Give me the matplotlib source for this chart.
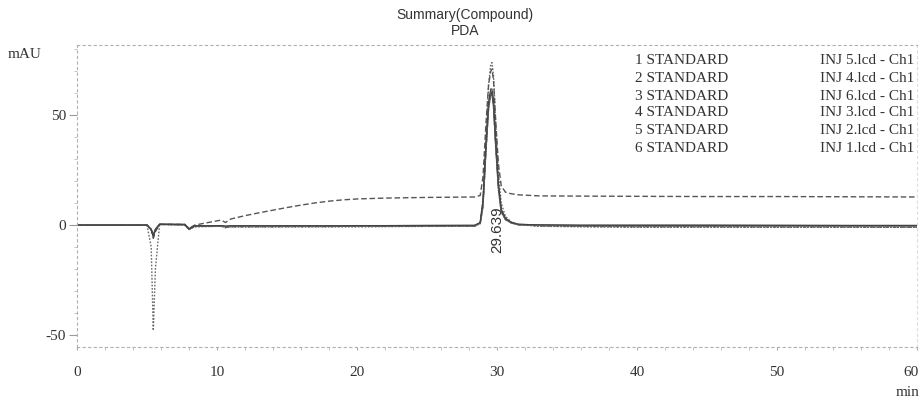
import matplotlib
matplotlib.use("Agg")
import matplotlib.pyplot as plt
from matplotlib.ticker import MultipleLocator
from matplotlib.transforms import ScaledTranslation

# Retention-time breakpoints (min) shared by every trace
time_min = [0, 5.0, 5.3, 5.45, 5.6, 5.9, 7.7, 8.0, 8.4, 10.3, 10.6, 11.0,
            12, 13, 14, 15, 16, 17, 18, 19, 20, 22, 25,
            28.4, 28.8, 29.0, 29.2, 29.4, 29.55, 29.64, 29.75, 29.9, 30.1,
            30.3, 30.6, 31.0, 31.5, 33, 36, 40, 45, 50, 55, 60]

# Absorbance (mAU) of each injection at the breakpoints
inj5 = [0, 0, -10, -48, -20, 0.3, 0, -2.0, -0.8, -0.5, -1.2, -0.8,
        -0.8, -0.8, -0.8, -0.8, -0.8, -0.8, -0.8, -0.8, -0.8, -0.7, -0.6,
        -0.5, 1.0, 12, 38, 64, 73, 74, 68, 48, 24,
        10, 4, 1.5, 0.3, -0.5, -0.8, -1.0, -1.0, -1.0, -1.0, -1.0]
inj4 = [0, 0, -2, -6, -3, 0.3, 0.3, -1.5, 0, 2.3, 1.2, 2.8,
        4.3, 5.6, 6.8, 8.0, 9.1, 10.1, 10.9, 11.5, 11.9, 12.3, 12.6,
        12.8, 13.5, 22, 45, 64, 70, 71, 66, 48, 28,
        18, 15, 14.3, 13.8, 13.3, 13.2, 13.1, 13.0, 13.0, 12.9, 12.8]
inj6 = [0, 0, -2, -5, -2, 0.4, 0.3, -1.8, -0.5, -0.3, -0.6, -0.4,
        -0.4, -0.4, -0.4, -0.4, -0.4, -0.4, -0.4, -0.4, -0.3, -0.3, -0.2,
        -0.2, 1.0, 10, 34, 54, 60, 60.5, 55, 38, 18,
        7, 3, 1.2, 0.3, 0, -0.2, -0.2, -0.2, -0.2, -0.3, -0.3]
inj3 = [0, 0, -2, -4, -2, 0.4, 0.2, -1.6, -0.4, -0.4, -0.8, -0.6,
        -0.6, -0.6, -0.6, -0.6, -0.6, -0.6, -0.5, -0.5, -0.5, -0.4, -0.4,
        -0.3, 0.8, 9, 33, 55, 61, 61, 56, 37, 17,
        6, 2.5, 1.0, 0.2, -0.2, -0.4, -0.5, -0.5, -0.5, -0.6, -0.6]
inj2 = [0, 0, -2, -5, -2, 0.3, 0.2, -2.0, -0.6, -0.6, -1.0, -0.8,
        -0.8, -0.8, -0.8, -0.7, -0.7, -0.7, -0.7, -0.6, -0.6, -0.6, -0.5,
        -0.5, 0.6, 8, 32, 53, 59, 59, 54, 36, 16,
        6, 2.5, 1.0, 0.1, -0.4, -0.6, -0.8, -0.8, -0.9, -0.9, -1.0]
inj1 = [0, 0, -2, -5, -2, 0.3, 0.2, -1.7, -0.3, -0.2, -0.5, -0.3,
        -0.3, -0.3, -0.3, -0.3, -0.3, -0.3, -0.3, -0.3, -0.2, -0.2, -0.2,
        -0.1, 1.2, 11, 36, 56, 62, 62, 57, 39, 19,
        7, 3, 1.3, 0.4, 0.1, 0, 0, 0, -0.1, -0.1, -0.1]

series = [inj5, inj4, inj6, inj3, inj2, inj1]
sample_names = ["1 STANDARD", "2 STANDARD", "3 STANDARD",
                "4 STANDARD", "5 STANDARD", "6 STANDARD"]
file_names = ["INJ 5.lcd - Ch1", "INJ 4.lcd - Ch1", "INJ 6.lcd - Ch1",
              "INJ 3.lcd - Ch1", "INJ 2.lcd - Ch1", "INJ 1.lcd - Ch1"]
x_ticks = [0, 10, 20, 30, 40, 50, 60]
y_ticks = [-50, 0, 50]
peak_rt = "29.639"

styles = [
    dict(color="#6a6a6a", linestyle=(0, (1.2, 1.2)), linewidth=1.0),
    dict(color="#555555", linestyle=(0, (4, 2)), linewidth=1.0),
    dict(color="#2a2a2a", linestyle="-", linewidth=1.1),
    dict(color="#7a7a7a", linestyle="-", linewidth=0.9),
    dict(color="#5a5a5a", linestyle=(0, (3, 1, 1, 1)), linewidth=0.9),
    dict(color="#444444", linestyle="-", linewidth=0.8),
]

plt.rcParams["axes.unicode_minus"] = False
serif = ["Liberation Serif", "DejaVu Serif"]
narrow = ["Liberation Sans Narrow", "Liberation Sans", "DejaVu Sans"]

W, H = 922, 405
fig = plt.figure(figsize=(W / 100, H / 100), dpi=100)
ax = fig.add_axes([77 / W, 1 - 347 / H, 840 / W, 302 / H])

for vals, st in zip(series, styles):
    ax.plot(time_min, vals, **st)

ax.set_xlim(0, 60)
ax.set_ylim(-55.5, 82)

for side in ["top", "bottom", "left", "right"]:
    ax.spines[side].set_linestyle((0, (2, 3)))
    ax.spines[side].set_color("#b0b0b0")
    ax.spines[side].set_linewidth(0.8)
ax.spines["right"].set_color("#dddddd")

ax.set_xticks(x_ticks)
ax.set_yticks(y_ticks)
ax.xaxis.set_minor_locator(MultipleLocator(2))
ax.yaxis.set_minor_locator(MultipleLocator(10))
ax.tick_params(axis="x", which="major", length=2, pad=12, color="#aaaaaa",
               labelsize=11, labelcolor="#333333")
ax.tick_params(axis="x", which="minor", length=2, color="#bbbbbb")
ax.tick_params(axis="y", which="major", length=6, pad=2, color="#999999",
               labelsize=11, labelcolor="#333333")
ax.tick_params(axis="y", which="minor", length=2, color="#bbbbbb")
for lab in ax.get_xticklabels() + ax.get_yticklabels():
    lab.set_family(serif)

# keep the last time label inside the figure edge
last = ax.get_xticklabels()[-1]
last.set_transform(last.get_transform()
                   + ScaledTranslation(-4 / 72, 0, fig.dpi_scale_trans))

ax.text(30.0, -12.5, peak_rt, rotation=90, ha="center", va="bottom",
        fontsize=11, family=narrow, color="#333333")

fig.text(8 / W, 1 - 55 / H, "mAU", ha="left", va="center", fontsize=11,
         family=serif, color="#333333")
fig.text(920 / W, 1 - 392 / H, "min", ha="right", va="center", fontsize=11,
         family=serif, color="#333333")

fig.text(465 / W, 1 - 15 / H, "Summary(Compound)", ha="center", va="center",
         fontsize=10, family=narrow, color="#333333")
fig.text(465 / W, 1 - 31 / H, "PDA", ha="center", va="center",
         fontsize=10, family=narrow, color="#333333")

row_y = [60, 78, 96, 113, 130, 148]
for yy, s, f in zip(row_y, sample_names, file_names):
    fig.text(728 / W, 1 - yy / H, s, ha="right", va="center", fontsize=11,
             family=serif, color="#333333")
    fig.text(820 / W, 1 - yy / H, f, ha="left", va="center", fontsize=11,
             family=serif, color="#333333")

fig.savefig("out.png", dpi=100)
